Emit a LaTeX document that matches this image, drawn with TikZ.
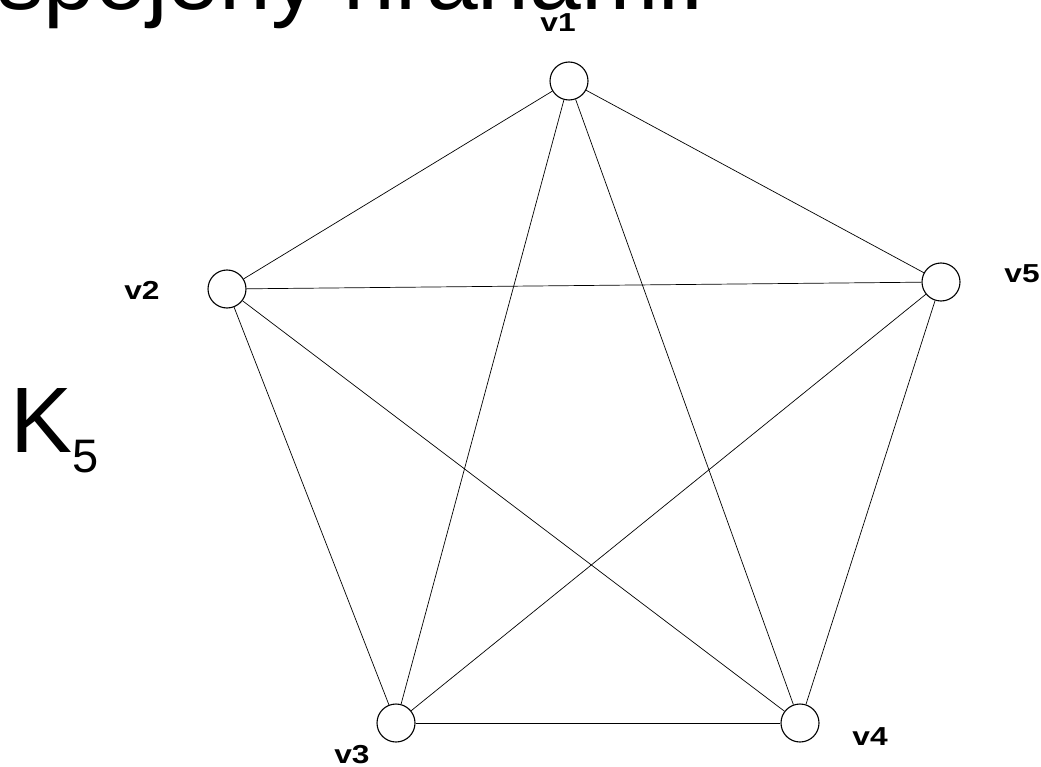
\documentclass[tikz,border=0pt]{standalone}
\usepackage{fontspec}
\setmainfont{Liberation Sans}
\newfontfamily\labfont{Liberation Sans Bold}[FakeStretch=1.22]
\begin{document}
\begin{tikzpicture}[x=1pt,y=-1pt,
  vert/.style={circle,draw=black,line width=1.1pt,fill=white,minimum size=38pt,inner sep=0pt},
  vlabel/.style={inner sep=0pt,font=\labfont\fontsize{26}{26}\selectfont},
  edge/.style={draw=black,line width=0.7pt}]
\useasboundingbox (0,0) rectangle (1041,767);
\fill[white] (0,0) rectangle (1041,767);
% title (cut off at the top)
\node[anchor=base west,inner sep=0pt,font=\fontsize{93}{93}\selectfont] (title) at (-3,10) {spojeny hranami.};
% K_5
\node[anchor=base west,inner sep=0pt] (k5) at (10,452)
  {\fontsize{93}{93}\selectfont K\raisebox{-20pt}{\fontsize{47}{47}\selectfont 5}};
% vertices
\node[vert] (v1) at (569,81) {};
\node[vert] (v2) at (227,289) {};
\node[vert] (v5) at (941,282) {};
\node[vert] (v3) at (396,723) {};
\node[vert] (v4) at (800,723) {};
% edges
\draw[edge] (v1) -- (v2);
\draw[edge] (v1) -- (v3);
\draw[edge] (v1) -- (v4);
\draw[edge] (v1) -- (v5);
\draw[edge] (v2) -- (v3);
\draw[edge] (v2) -- (v4);
\draw[edge] (v2) -- (v5);
\draw[edge] (v3) -- (v4);
\draw[edge] (v3) -- (v5);
\draw[edge] (v4) -- (v5);
% labels
\node[vlabel] (l1) at (558,23) {v1};
\node[vlabel] (l2) at (142,290) {v2};
\node[vlabel] (l5) at (1022,274) {v5};
\node[vlabel] (l3) at (352,755) {v3};
\node[vlabel] (l4) at (870,737) {v4};
\end{tikzpicture}
\end{document}
